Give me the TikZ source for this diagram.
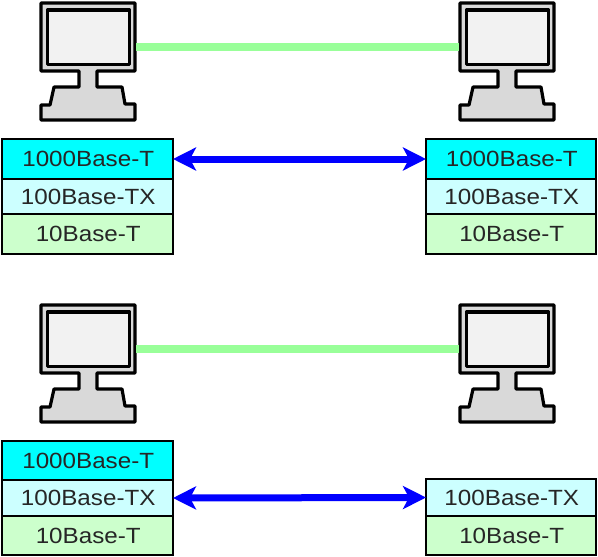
\documentclass[tikz,border=0pt]{standalone}
\usepackage{fontspec}
\setmainfont[FakeStretch=1.1]{Liberation Sans}
\usetikzlibrary{arrows.meta}
\definecolor{gig}{HTML}{00FFFF}
\definecolor{fast}{HTML}{CCFFFF}
\definecolor{ten}{HTML}{CCFFCC}
\definecolor{linkc}{HTML}{99FF99}
\definecolor{body}{HTML}{D9D9D9}
\definecolor{scr}{HTML}{F2F2F2}
\tikzset{
  x=1pt,y=-1pt,
  row/.style={draw=black,line width=2.6pt,inner sep=0pt,outer sep=0pt,anchor=north west,align=center,font=\fontsize{22}{22}\selectfont,text=black!85},
  pcline/.style={draw=black,line width=3.2pt,line join=round},
  linkline/.style={draw=linkc,line width=8pt},
  neg/.style={draw=blue,line width=7pt,{Stealth[length=23pt,width=23pt,inset=6pt]}-{Stealth[length=23pt,width=23pt,inset=6pt]}},
}
% \computer{name}{dx}{dy}
\newcommand{\computer}[3]{%
  \begin{scope}[shift={(#2,#3)}]
    \draw[pcline,fill=body] (97,71) -- (135,71) -- (135,3) -- (41,3) -- (41,71) -- (79,71) -- (79,87) -- (54,87) -- (50,105) -- (41,105) -- (41,120) -- (135,120) -- (135,104) -- (125,104) -- (122,87) -- (97,87) -- cycle;
    \draw[pcline,fill=scr] (47.5,10) rectangle (129.5,64.5);
    \coordinate (#1W) at (40,47);
    \coordinate (#1E) at (136,47);
  \end{scope}}
% \rowbox{name}{x}{top}{width}{height}{fill}{text}
\newcommand{\rowbox}[7]{%
  \node[row,fill=#6,minimum width=#4pt,minimum height=#5pt,text width=#4pt] (#1) at (#2,#3) {\hspace*{1.5pt}\raisebox{-2.5pt}{#7}};}
\begin{document}
\begin{tikzpicture}
\useasboundingbox (0,0) rectangle (598,557);
\computer{pa}{0}{0}
\computer{pb}{419}{0}
\draw[linkline] (paE) -- (pbW);
\rowbox{aG}{2}{139}{171}{40}{gig}{1000Base-T}
\rowbox{aF}{2}{179}{171}{35}{fast}{100Base-TX}
\rowbox{aT}{2}{214}{171}{40}{ten}{10Base-T}
\rowbox{bG}{426}{139}{170}{40}{gig}{1000Base-T}
\rowbox{bF}{426}{179}{170}{35}{fast}{100Base-TX}
\rowbox{bT}{426}{214}{170}{40}{ten}{10Base-T}
\draw[neg] (aG.east) -- (bG.west);
\computer{pc}{0}{302}
\computer{pd}{419}{302}
\draw[linkline] (pcE) -- (pdW);
\rowbox{cG}{2}{441}{171}{39}{gig}{1000Base-T}
\rowbox{cF}{2}{480}{171}{36}{fast}{100Base-TX}
\rowbox{cT}{2}{516}{171}{39}{ten}{10Base-T}
\rowbox{dF}{426}{479}{170}{37}{fast}{100Base-TX}
\rowbox{dT}{426}{516}{170}{39}{ten}{10Base-T}
\draw[neg] (cF.east) -- (dF.west);
\end{tikzpicture}
\end{document}
